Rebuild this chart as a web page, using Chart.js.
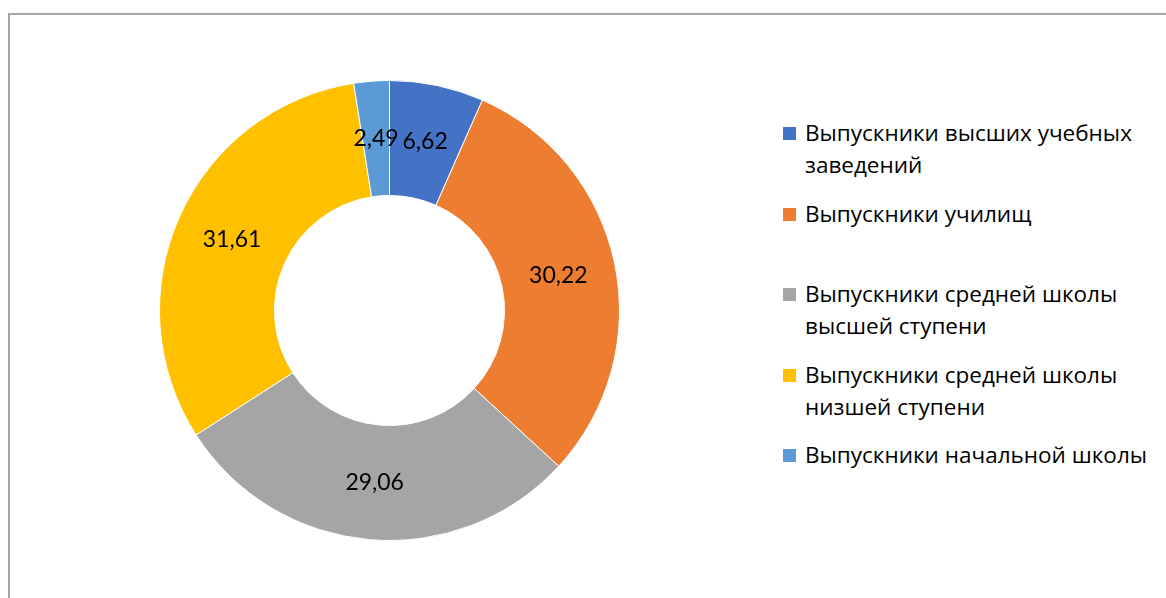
<!DOCTYPE html>
<html>
<head>
<meta charset="utf-8">
<script src="https://cdn.jsdelivr.net/npm/chart.js@4"></script>
<style>
  html, body { margin: 0; padding: 0; background: #fff; }
  body { width: 1166px; height: 598px; position: relative; overflow: hidden; font-family: Lato, "Noto Sans", sans-serif; }
  .frame { position: absolute; left: 8px; top: 13px; width: 1200px; height: 700px; border-left: 2px solid #a6a6a6; border-top: 2px solid #a6a6a6; }
  .wrap { position: absolute; left: 0; top: 0; width: 779px; height: 598px; }
  #legend { position: absolute; left: 783px; top: 0; margin: 0; padding: 0; list-style: none; }
  #legend li { position: absolute; left: 0; width: 383px; display: flex; align-items: flex-start; font-family: "Open Sans", sans-serif; font-size: 22.5px; line-height: 32px; color: #000; white-space: nowrap; }
  #legend .box { flex: none; width: 13px; height: 13px; margin-top: 10px; margin-right: 9px; }
</style>
</head>
<body>
<div class="frame"></div>
<div class="wrap"><canvas id="chart"></canvas></div>
<ul id="legend"></ul>
<script>
const categories = [
  'Выпускники высших учебных заведений',
  'Выпускники училищ',
  'Выпускники средней школы высшей ступени',
  'Выпускники средней школы низшей ступени',
  'Выпускники начальной школы'
];
const values = [6.62, 30.22, 29.06, 31.61, 2.49];
const colors = ['#4472C4', '#ED7D31', '#A5A5A5', '#FFC000', '#5B9BD5'];
const legendLines = [
  ['Выпускники высших учебных', 'заведений'],
  ['Выпускники училищ'],
  ['Выпускники средней школы', 'высшей ступени'],
  ['Выпускники средней школы', 'низшей ступени'],
  ['Выпускники начальной школы']
];

// value labels in the middle of each ring segment
const sliceLabels = {
  id: 'sliceLabels',
  afterDatasetsDraw(chart) {
    const ctx = chart.ctx;
    const meta = chart.getDatasetMeta(0);
    ctx.save();
    ctx.font = '23px Lato, "Noto Sans", sans-serif';
    ctx.fillStyle = '#000';
    ctx.textAlign = 'center';
    ctx.textBaseline = 'middle';
    meta.data.forEach((arc, i) => {
      const p = arc.tooltipPosition();
      ctx.fillText(values[i].toFixed(2).replace('.', ','), p.x, p.y);
    });
    ctx.restore();
  }
};

new Chart(document.getElementById('chart'), {
  type: 'doughnut',
  data: {
    labels: categories,
    datasets: [{
      data: values,
      backgroundColor: colors,
      borderColor: '#fff',
      borderWidth: 1
    }]
  },
  options: {
    responsive: true,
    maintainAspectRatio: false,
    animation: false,
    cutout: '50%',
    layout: { padding: { top: 80, bottom: 57, left: 0, right: 0 } },
    plugins: {
      legend: { display: false },
      tooltip: { enabled: false }
    }
  },
  plugins: [sliceLabels]
});

const legend = document.getElementById('legend');
legendLines.forEach((lines, i) => {
  const li = document.createElement('li');
  li.style.top = (117 + i * 80.5) + 'px';
  const box = document.createElement('span');
  box.className = 'box';
  box.style.background = colors[i];
  const txt = document.createElement('span');
  txt.innerHTML = lines.join('<br>');
  li.appendChild(box);
  li.appendChild(txt);
  legend.appendChild(li);
});
</script>
</body>
</html>
